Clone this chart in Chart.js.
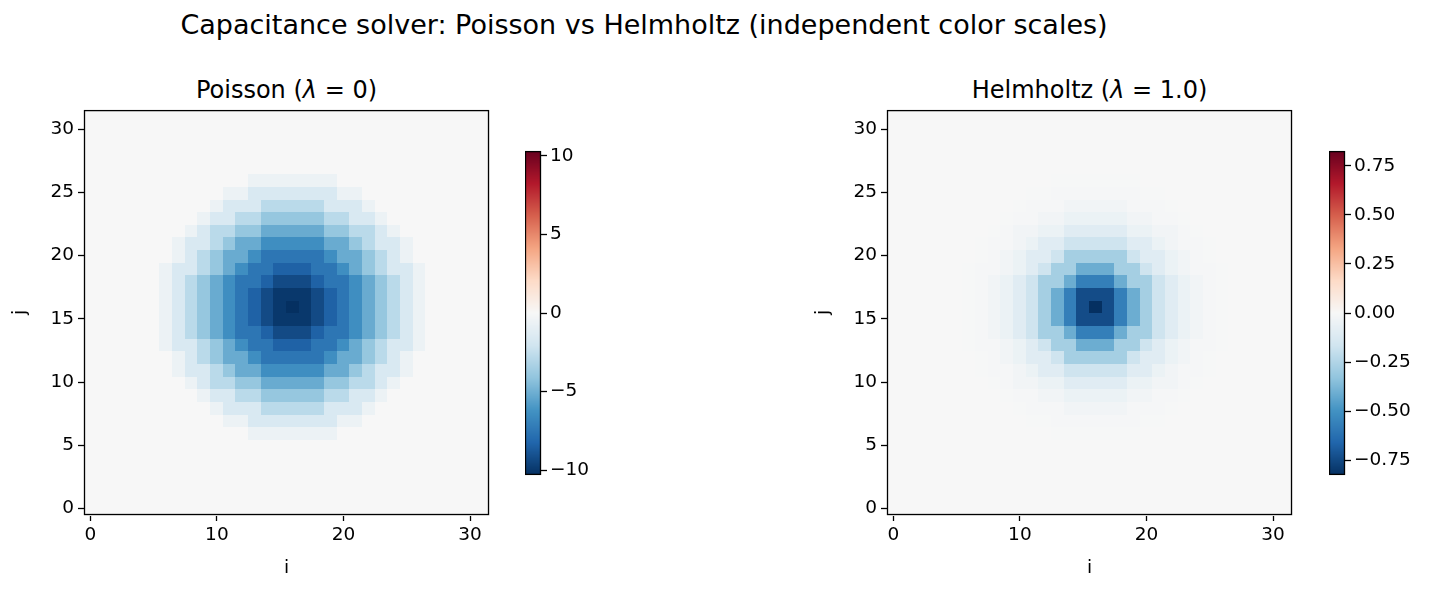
<!DOCTYPE html>
<html>
<head>
<meta charset="utf-8">
<script src="https://cdn.jsdelivr.net/npm/chart.js@4/dist/chart.umd.min.js"></script>
<style>
body { margin: 0; background: #fff; font-family: "DejaVu Sans", sans-serif; }
#wrap { position: relative; width: 1438px; height: 593px; }
canvas, .t { position: absolute; }
.t { text-align: center; color: #000; white-space: nowrap; }
</style>
</head>
<body>
<div id="wrap">
  <div class="t" style="left:0;width:1288px;top:9px;font-size:27px">Capacitance solver: Poisson vs Helmholtz (independent color scales)</div>
  <div class="t" style="left:84px;width:405px;top:76px;font-size:24px">Poisson (<i>λ</i> = 0)</div>
  <div class="t" style="left:887px;width:405px;top:76px;font-size:24px">Helmholtz (<i>λ</i> = 1.0)</div>
  <canvas id="p1" style="left:0;top:95px;width:500px;height:498px"></canvas>
  <canvas id="c1" style="left:525px;top:137px;width:120px;height:352px"></canvas>
  <canvas id="p2" style="left:803px;top:95px;width:500px;height:498px"></canvas>
  <canvas id="c2" style="left:1329px;top:137px;width:109px;height:352px"></canvas>
</div>
<script>
// grid size and centre of the blob
const gridSize = 32
const centre = [16, 16]

// radial profile, value at distance r = 0, 1, 2, ...
const poissonProfile = [-10.3, -10.0, -9.3, -8.4, -7.5, -6.4, -5.2, -4.0, -2.8, -1.6, -0.6]
const helmholtzProfile = [-0.83, -0.74, -0.57, -0.41, -0.28, -0.17, -0.10, -0.05, -0.025, -0.01, -0.004]

const poissonRange = 10.3
const helmholtzRange = 0.826
const poissonTicks = [-10, -5, 0, 5, 10]
const helmholtzTicks = [-0.75, -0.5, -0.25, 0, 0.25, 0.5, 0.75]

const rdbu = ['#053061', '#2166ac', '#4393c3', '#92c5de', '#d1e5f0', '#f7f7f7',
              '#fddbc7', '#f4a582', '#d6604d', '#b2182b', '#67001f']

function hex(c) { return [1, 3, 5].map(k => parseInt(c.substr(k, 2), 16)); }

function colorFor(v, range) {
    let t = Math.max(0, Math.min(1, (v + range) / (2 * range))) * (rdbu.length - 1);
    let k = Math.min(rdbu.length - 2, Math.floor(t));
    let f = t - k;
    let a = hex(rdbu[k]), b = hex(rdbu[k + 1]);
    let rgb = a.map((x, n) => Math.round(x + (b[n] - x) * f));
    return 'rgb(' + rgb.join(',') + ')';
}

function buildGrid(profile) {
    let cells = [];
    for (let j = 0; j < gridSize; j++) {
        for (let i = 0; i < gridSize; i++) {
            let r = Math.round(Math.hypot(i - centre[0], j - centre[1]));
            cells.push({x: i, y: j, v: r < profile.length ? profile[r] : 0});
        }
    }
    return cells;
}

const font = {family: 'DejaVu Sans', size: 18.5};
const labelFont = {family: 'DejaVu Sans', size: 18.5};
const tickGrid = {display: true, drawOnChartArea: false, drawTicks: true, tickLength: 6, tickColor: '#000', tickWidth: 1.3};

const heatPlugin = {
    id: 'heat',
    beforeDatasetsDraw(chart) {
        const {ctx, scales: {x, y}} = chart;
        const range = chart.options.plugins.heat.range;
        ctx.save();
        chart.data.datasets[0].data.forEach(c => {
            let x0 = x.getPixelForValue(c.x - 0.5), x1 = x.getPixelForValue(c.x + 0.5);
            let y0 = y.getPixelForValue(c.y + 0.5), y1 = y.getPixelForValue(c.y - 0.5);
            ctx.fillStyle = colorFor(c.v, range);
            ctx.fillRect(Math.floor(x0), Math.floor(y0), Math.ceil(x1 - x0) + 1, Math.ceil(y1 - y0) + 1);
        });
        ctx.restore();
    },
    afterDraw(chart) {
        const {ctx, chartArea: a} = chart;
        ctx.save();
        ctx.strokeStyle = '#000';
        ctx.lineWidth = 1.3;
        ctx.strokeRect(a.left + 0.5, a.top + 0.5, a.right - a.left - 1, a.bottom - a.top - 1);
        ctx.restore();
    }
};

function heatmap(id, profile, range) {
    new Chart(document.getElementById(id), {
        type: 'scatter',
        data: {datasets: [{data: buildGrid(profile), pointRadius: 0}]},
        plugins: [heatPlugin],
        options: {
            responsive: false, animation: false,
            layout: {padding: {top: 5, right: 11, left: 9, bottom: 14}},
            plugins: {legend: {display: false}, tooltip: {enabled: false}, heat: {range: range}},
            scales: {
                x: {
                    min: -0.5, max: 31.5,
                    afterFit: s => { s.height = 64; },
                    afterBuildTicks: s => { s.ticks = [0, 10, 20, 30].map(v => ({value: v})); },
                    grid: tickGrid,
                    border: {display: false},
                    ticks: {color: '#000', font: font, maxRotation: 0, padding: 3},
                    title: {display: true, text: 'i', color: '#000', font: labelFont, padding: 0}
                },
                y: {
                    min: -0.5, max: 31.5,
                    afterFit: s => { s.width = 75; },
                    afterBuildTicks: s => { s.ticks = [0, 5, 10, 15, 20, 25, 30].map(v => ({value: v})); },
                    grid: tickGrid,
                    border: {display: false},
                    ticks: {color: '#000', font: font, padding: 4},
                    title: {display: true, text: 'j', color: '#000', font: labelFont, padding: 0}
                }
            }
        }
    });
}

const barPlugin = {
    id: 'cbar',
    beforeDatasetsDraw(chart) {
        const {ctx, chartArea: a, scales: {y}} = chart;
        const range = chart.options.plugins.cbar.range;
        ctx.save();
        for (let py = Math.floor(a.top); py < a.bottom; py++) {
            ctx.fillStyle = colorFor(y.getValueForPixel(py + 0.5), range);
            ctx.fillRect(a.left, py, a.right - a.left, 1);
        }
        ctx.strokeStyle = '#000';
        ctx.lineWidth = 1.3;
        ctx.strokeRect(a.left + 0.5, a.top + 0.5, a.right - a.left - 1, a.bottom - a.top - 1);
        ctx.restore();
    }
};

function colorbar(id, range, ticks, decimals, width) {
    new Chart(document.getElementById(id), {
        type: 'scatter',
        data: {datasets: [{data: [], pointRadius: 0}]},
        plugins: [barPlugin],
        options: {
            responsive: false, animation: false,
            layout: {padding: {top: 6, bottom: 9}},
            plugins: {legend: {display: false}, tooltip: {enabled: false}, cbar: {range: range}},
            scales: {
                x: {display: false, min: 0, max: 1},
                y: {
                    position: 'right', min: -range, max: range,
                    afterFit: s => { s.width = width - 16; },
                    afterBuildTicks: s => { s.ticks = ticks.map(v => ({value: v})); },
                    grid: tickGrid,
                    border: {display: false},
                    ticks: {color: '#000', font: font, padding: 3,
                        callback: v => (v < 0 ? '\u2212' : '') + Math.abs(v).toFixed(decimals)}
                }
            }
        }
    });
}

heatmap('p1', poissonProfile, poissonRange);
colorbar('c1', poissonRange, poissonTicks, 0, 120);
heatmap('p2', helmholtzProfile, helmholtzRange);
colorbar('c2', helmholtzRange, helmholtzTicks, 2, 109);
</script>
</body>
</html>
